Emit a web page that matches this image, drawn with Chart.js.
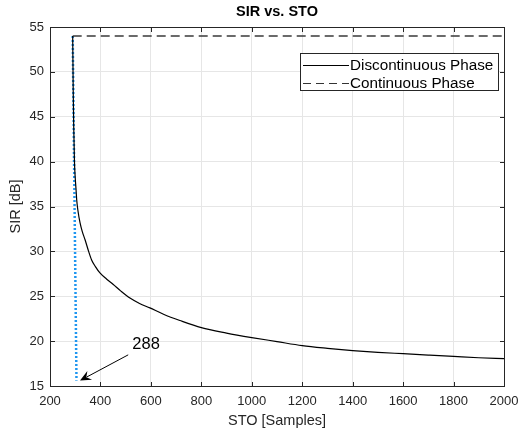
<!DOCTYPE html>
<html>
<head>
<meta charset="utf-8">
<script src="https://cdn.jsdelivr.net/npm/chart.js@4/dist/chart.umd.min.js"></script>
<style>
html,body{margin:0;padding:0;background:#fff;}
#wrap{width:521px;height:430px;position:relative;}
</style>
</head>
<body>
<div id="wrap"><canvas id="c" width="521" height="430"></canvas></div>
<script>
// ---- data ----
const chartTitle = 'SIR vs. STO';
const xTitle = 'STO [Samples]';
const yTitle = 'SIR [dB]';
const legendLabels = ['Discontinuous Phase', 'Continuous Phase'];

const stoDisc = [290,292,294,297,300,303,306,311,319,328,339,352,365,380,398,425,451,480,517,555,596,650,715,800,900,1000,1100,1200,1300,1400,1500,1600,1700,1800,1900,2000];
const sirDisc = [54,48,44,40,38.2,37,35.7,34.5,33.2,32.2,31.3,30.1,29.05,28.3,27.6,26.9,26.3,25.6,24.8,24.2,23.7,23.0,22.3,21.5,20.9,20.4,19.95,19.5,19.2,18.95,18.75,18.6,18.45,18.3,18.15,18.05];

const stoCont = [290, 2000];
const sirCont = [54, 54];

const stoMarker = [290, 305];
const sirMarker = [54, 15.6];

const annoText = '288';
const annoTextAt = [581, 19.66];
const annoTail = [510, 18.47];
const annoTip = [319, 15.6];

const xMin = 200, xMax = 2000, xStep = 200;
const yMin = 15, yMax = 55, yStep = 5;

const toPts = (xs, ys) => xs.map((x, i) => ({x: x, y: ys[i]}));

const FONT = '"Liberation Sans", Arial, Helvetica, sans-serif';
const AX = '#262626';

const decorPlugin = {
  id: 'decor',
  afterDraw(chart) {
    const ctx = chart.ctx;
    const a = chart.chartArea;
    const xs = chart.scales.x, ys = chart.scales.y;
    ctx.save();
    ctx.strokeStyle = AX;
    ctx.lineWidth = 1;
    const L = Math.round(a.left) + 0.5, R = Math.round(a.right) + 0.5;
    const T = Math.round(a.top) + 0.5, B = Math.round(a.bottom) + 0.5;
    ctx.strokeRect(L, T, R - L, B - T);
    const tl = 4.5;
    ctx.beginPath();
    for (let v = xMin; v <= xMax; v += xStep) {
      const px = Math.round(xs.getPixelForValue(v)) + 0.5;
      ctx.moveTo(px, B); ctx.lineTo(px, B - tl);
      ctx.moveTo(px, T); ctx.lineTo(px, T + tl);
    }
    for (let v = yMin; v <= yMax; v += yStep) {
      const py = Math.round(ys.getPixelForValue(v)) + 0.5;
      ctx.moveTo(L, py); ctx.lineTo(L + tl, py);
      ctx.moveTo(R, py); ctx.lineTo(R - tl, py);
    }
    ctx.stroke();
    ctx.fillStyle = '#000';
    ctx.font = 'bold 14.5px ' + FONT;
    ctx.textAlign = 'center';
    ctx.textBaseline = 'middle';
    ctx.fillText(chartTitle, (a.left + a.right) / 2, 12);

    const tx = xs.getPixelForValue(annoTail[0]), ty = ys.getPixelForValue(annoTail[1]);
    const hx = xs.getPixelForValue(annoTip[0]), hy = ys.getPixelForValue(annoTip[1]);
    const ang = Math.atan2(hy - ty, hx - tx);
    const hl = 11, hw = 5;
    ctx.strokeStyle = '#000';
    ctx.lineWidth = 1;
    ctx.beginPath();
    ctx.moveTo(tx, ty);
    ctx.lineTo(hx - Math.cos(ang) * hl * 0.7, hy - Math.sin(ang) * hl * 0.7);
    ctx.stroke();
    const bx = hx - Math.cos(ang) * hl, by = hy - Math.sin(ang) * hl;
    const nx = -Math.sin(ang), ny = Math.cos(ang);
    const mx = hx - Math.cos(ang) * hl * 0.65, my = hy - Math.sin(ang) * hl * 0.65;
    ctx.fillStyle = '#000';
    ctx.beginPath();
    ctx.moveTo(hx, hy);
    ctx.lineTo(bx + nx * hw, by + ny * hw);
    ctx.lineTo(mx, my);
    ctx.lineTo(bx - nx * hw, by - ny * hw);
    ctx.closePath();
    ctx.fill();
    ctx.font = '16.5px ' + FONT;
    ctx.textAlign = 'center';
    ctx.textBaseline = 'middle';
    ctx.fillText(annoText, xs.getPixelForValue(annoTextAt[0]), ys.getPixelForValue(annoTextAt[1]));

    const lx = 300, ly = 53, lw = 198, lh = 37;
    ctx.fillStyle = '#fff';
    ctx.fillRect(lx, ly, lw, lh);
    ctx.strokeStyle = AX;
    ctx.lineWidth = 1;
    ctx.strokeRect(lx + 0.5, ly + 0.5, lw, lh);
    ctx.font = '15.25px ' + FONT;
    ctx.textAlign = 'left';
    ctx.textBaseline = 'middle';
    const rows = [65, 83];
    ctx.strokeStyle = '#000';
    ctx.beginPath(); ctx.moveTo(303, rows[0] + 0.5); ctx.lineTo(349, rows[0] + 0.5); ctx.stroke();
    ctx.strokeStyle = '#333';
    ctx.setLineDash([8, 5]);
    ctx.beginPath(); ctx.moveTo(303, rows[1] + 0.5); ctx.lineTo(349, rows[1] + 0.5); ctx.stroke();
    ctx.setLineDash([]);
    ctx.fillStyle = '#000';
    ctx.fillText(legendLabels[0], 350, rows[0] + 1);
    ctx.fillText(legendLabels[1], 350, rows[1] + 1);
    ctx.restore();
  }
};

new Chart(document.getElementById('c'), {
  type: 'line',
  data: {
    datasets: [
      {
        label: legendLabels[0],
        data: toPts(stoDisc, sirDisc),
        borderColor: '#000',
        borderWidth: 1.2,
        pointRadius: 0,
        cubicInterpolationMode: 'monotone',
        fill: false
      },
      {
        label: legendLabels[1],
        data: toPts(stoCont, sirCont),
        borderColor: '#3a3a3a',
        borderWidth: 1.4,
        borderDash: [9, 5],
        pointRadius: 0,
        fill: false
      },
      {
        label: 'marker',
        data: toPts(stoMarker, sirMarker),
        borderColor: '#1f96f0',
        borderWidth: 2.5,
        borderDash: [2, 2],
        pointRadius: 0,
        fill: false
      }
    ]
  },
  options: {
    responsive: false,
    animation: false,
    events: [],
    layout: { padding: { top: 27, right: 17, left: 0, bottom: 0 } },
    plugins: { legend: { display: false }, title: { display: false }, tooltip: { enabled: false } },
    scales: {
      x: {
        type: 'linear', min: xMin, max: xMax,
        ticks: { stepSize: xStep, color: AX, font: { size: 13, family: FONT }, padding: 8, maxRotation: 0, autoSkip: false,
                 callback: v => String(v) },
        grid: { color: '#e6e6e6', drawTicks: false },
        border: { display: false },
        title: { display: true, text: xTitle, color: AX, font: { size: 14.5, family: FONT }, padding: { top: 0, bottom: 0 } },
        afterFit(s) { s.height = 44; s.paddingLeft = 0; s.paddingRight = 0; }
      },
      y: {
        type: 'linear', min: yMin, max: yMax,
        ticks: { stepSize: yStep, color: AX, font: { size: 13, family: FONT }, padding: 6, callback: v => String(v) },
        grid: { color: '#e6e6e6', drawTicks: false },
        border: { display: false },
        title: { display: true, text: yTitle, color: AX, font: { size: 14.5, family: FONT }, padding: { top: 7, bottom: 0 } },
        afterFit(s) { s.width = 50; s.paddingTop = 0; s.paddingBottom = 0; }
      }
    }
  },
  plugins: [decorPlugin]
});
</script>
</body>
</html>
